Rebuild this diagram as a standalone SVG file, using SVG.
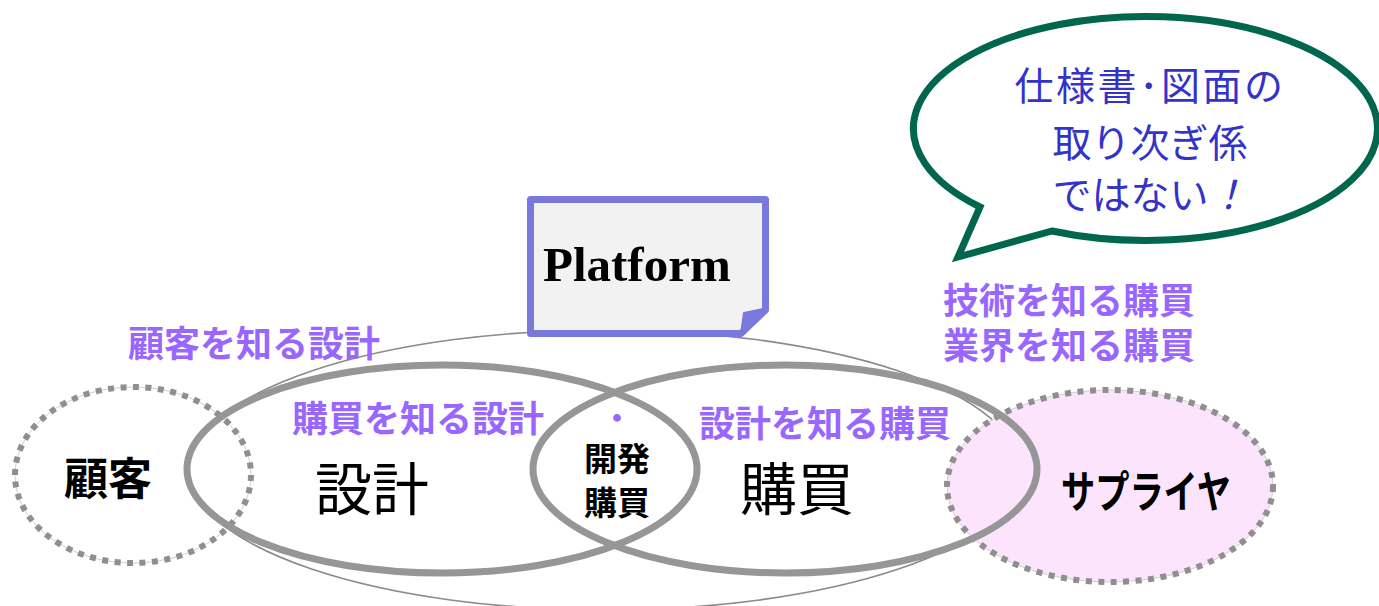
<svg xmlns="http://www.w3.org/2000/svg" width="1379" height="606" viewBox="0 0 1379 606">
<style>
.thin{fill:none;stroke:#8a8a8a;stroke-width:1.6}
.thick{fill:none;stroke:#969696;stroke-width:7}
.dotbase{stroke:#d0d0d0;stroke-width:1}
.dot{fill:none;stroke:#8f8f8f;stroke-width:6;stroke-dasharray:6 6.5}
.lbl{font-family:"Noto Sans CJK JP","Noto Sans",sans-serif;font-weight:700;fill:#9966ff;font-size:36px}
.blk{font-family:"Noto Sans CJK JP","Noto Sans",sans-serif;fill:#000;text-anchor:middle}
.bub{font-family:"Noto Sans CJK JP","Noto Sans",sans-serif;fill:#3333cc;font-size:39px;text-anchor:middle}
</style>
<rect width="1379" height="606" fill="#fff"/>
<g id="platform-area">
<ellipse class="thin" cx="605" cy="470" rx="415" ry="140"/>
</g>
<g id="customer">
<ellipse class="dotbase" cx="133" cy="475" rx="118" ry="88" fill="#fff"/>
<ellipse class="dot" cx="133" cy="475" rx="118" ry="88"/>
<text class="blk" x="108" y="495" font-size="44" font-weight="700">顧客</text>
</g>
<g id="supplier">
<ellipse class="dotbase" cx="1110" cy="486" rx="163" ry="96" fill="#fbe4fc"/>
<ellipse class="dot" cx="1110" cy="486" rx="163" ry="96"/>
<text class="blk" x="1146" y="508" font-size="44" font-weight="700" textLength="170" lengthAdjust="spacingAndGlyphs">サプライヤ</text>
</g>
<g id="connectors">
<ellipse class="thick" cx="442" cy="469" rx="255" ry="104"/>
<ellipse class="thick" cx="785" cy="469" rx="252" ry="104"/>
</g>
<g id="design">
<text class="blk" x="372" y="510" font-size="57">設計</text>
</g>
<g id="purchase">
<text class="blk" x="797" y="510" font-size="57">購買</text>
</g>
<g id="dev-purchase">
<text class="blk" x="617" y="471" font-size="33" font-weight="700">開発</text>
<text class="blk" x="617" y="515" font-size="33" font-weight="700">購買</text>
</g>
<g id="labels">
<text class="lbl" x="128" y="357">顧客を知る設計</text>
<text class="lbl" x="292" y="432">購買を知る設計</text>
<text class="lbl" x="617" y="429" text-anchor="middle" style="font-size:30px">・</text>
<text class="lbl" x="699" y="437">設計を知る購買</text>
<text class="lbl" x="943" y="314">技術を知る購買</text>
<text class="lbl" x="943" y="359">業界を知る購買</text>
</g>
<g id="platform">
<path d="M530.5,199.5 H765.5 V310 L741,333.5 H530.5 Z" fill="#f2f2f2" stroke="#7b78dc" stroke-width="7" stroke-linejoin="round"/>
<path d="M744,313 L767,308 L741,334 Z" fill="#7b78dc" stroke="#7b78dc" stroke-width="2" stroke-linejoin="round"/>
<text x="543" y="281" font-family="'Liberation Serif',serif" font-weight="700" font-size="49" fill="#000">Platform</text>
</g>
<g id="bubble">
<path d="M1052,231 A232 112 0 1 0 980,207 L958,257 Z" fill="#fff" stroke="#00664d" stroke-width="7" stroke-linejoin="miter"/>
<text class="bub" x="1150" y="100" letter-spacing="2.5">仕様書･図面の</text>
<text class="bub" x="1150" y="157">取り次ぎ係</text>
<text class="bub" x="1150" y="209">ではない<tspan font-style="italic">！</tspan></text>
</g>
</svg>
